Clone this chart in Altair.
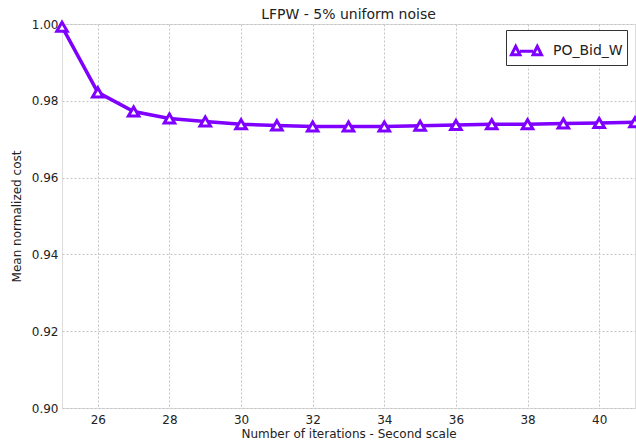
import altair as alt
import pandas as pd

iterations = list(range(25, 42))
cost = [0.9993, 0.9822, 0.9772, 0.9754, 0.9746, 0.9739, 0.9736, 0.9733, 0.9733,
        0.9733, 0.9735, 0.9737, 0.9739, 0.9739, 0.9741, 0.9742, 0.9744]
series = ["PO_Bid_W"] * len(iterations)

df = pd.DataFrame({"it": iterations, "cost": cost, "series": series})

color = "#7F00FF"
font = "DejaVu Sans"

legend_symbol = ("M-1,0.28L-0.72,-0.28L-0.44,0.28Z "
                 "M0.44,0.28L0.72,-0.28L1,0.28Z "
                 "M-0.44,0.05L0.44,0.05")

x = alt.X("it:Q", title="Number of iterations - Second scale",
          scale=alt.Scale(domain=[25, 41], nice=False, zero=False),
          axis=alt.Axis(values=list(range(26, 42, 2)), format="d", grid=True,
                        gridDash=[2, 2], gridColor="#c4c4c4", tickSize=0,
                        labelPadding=6, domain=False, labelFont=font, labelFontSize=12,
                        titleFont=font, titleFontSize=12, titleFontWeight="normal",
                        labelColor="#222", titleColor="#222", titlePadding=3))
y = alt.Y("cost:Q", title="Mean normalized cost",
          scale=alt.Scale(domain=[0.90, 1.00], nice=False, zero=False),
          axis=alt.Axis(values=[0.90, 0.92, 0.94, 0.96, 0.98, 1.00], format=".2f",
                        grid=True, gridDash=[2, 2], gridColor="#c4c4c4", tickSize=0,
                        labelPadding=4, domain=False, labelFont=font, labelFontSize=12,
                        titleFont=font, titleFontSize=12, titleFontWeight="normal",
                        labelColor="#222", titleColor="#222", titlePadding=8))

col = alt.Color("series:N", scale=alt.Scale(range=[color]),
                legend=alt.Legend(title=None, orient="none", legendX=444, legendY=6,
                                  symbolType=legend_symbol, symbolSize=900,
                                  symbolStrokeWidth=3, symbolFillColor="white",
                                  labelFont=font, labelFontSize=14, labelColor="#222",
                                  strokeColor="#333", padding=4, fillColor="white",
                                  labelOffset=10))

line = alt.Chart(df).mark_line(strokeWidth=3.5, color=color).encode(x=x, y=y)
pts = alt.Chart(df).mark_point(shape="triangle-up", size=110, strokeWidth=3,
                               filled=False, opacity=1).encode(
    x=x, y=y, color=col, fill=alt.value("white"))

chart = (line + pts).properties(
    width=573, height=384,
    title=alt.Title("LFPW - 5% uniform noise", font=font, fontSize=14,
                    fontWeight="normal", color="#222", offset=-6),
    autosize=alt.AutoSizeParams(type="none"),
    padding={"left": 62, "top": 24, "right": 1, "bottom": 36},
).configure_view(stroke="#555", strokeWidth=1.2).configure(background="white")

chart.save("out.html", embed_options={"renderer": "svg", "actions": False})
